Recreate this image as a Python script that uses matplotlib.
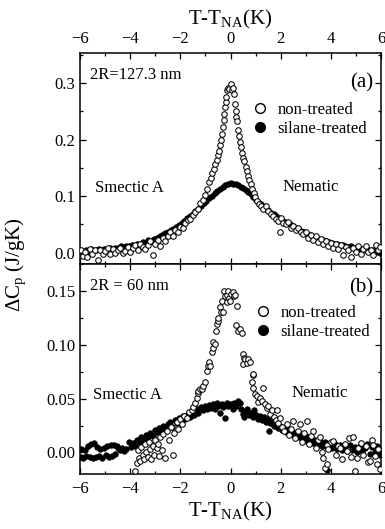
import numpy as np
import matplotlib
matplotlib.use("Agg")
import matplotlib.pyplot as plt
from matplotlib.lines import Line2D
from matplotlib.ticker import MultipleLocator

plt.rcParams.update({"font.family": "Liberation Serif", "mathtext.fontset": "custom",
                     "mathtext.rm": "Liberation Serif", "mathtext.it": "Liberation Serif:italic",
                     "xtick.direction": "in", "ytick.direction": "in", "axes.linewidth": 1.1})

# ---- panel (a): 2R = 127.3 nm ----
a_sil_T = [-5.95,-5.85,-5.78,-5.66,-5.55,-5.47,-5.35,-5.25,-5.14,-5.03,-4.93,-4.82,-4.70,-4.60,-4.48,-4.37,
           -4.26,-4.15,-4.04,-3.93,-3.82,-3.71,-3.60,-3.49,-3.38,-3.27,-3.16,-3.05,-2.94,-2.83,-2.72,-2.61,
           -2.50,-2.39,-2.28,-2.17,-2.06,-1.95,-1.84,-1.73,-1.62,-1.51,-1.40,-1.29,-1.18,-1.07,-0.96,-0.85,
           -0.74,-0.63,-0.52,-0.41,-0.30,-0.20,-0.10,0.00,0.10,0.20,0.30,0.40,0.50,0.60,0.70,0.80,0.90,1.00,
           1.10,1.20,1.30,1.40,1.50,1.61,1.72,1.83,1.94,2.05,2.16,2.27,2.38,2.49,2.60,2.71,2.82,2.93,3.04,
           3.15,3.26,3.37,3.48,3.59,3.70,3.81,3.92,4.03,4.14,4.25,4.36,4.47,4.58,4.69,4.80,4.91,5.02,5.13,
           5.24,5.35,5.46,5.57,5.68,5.79,5.90,5.98]
a_sil_C = [0.003,0.000,0.005,0.002,0.006,0.003,0.005,0.007,0.004,0.007,0.005,0.008,0.006,0.009,0.008,0.011,
           0.009,0.012,0.011,0.014,0.013,0.016,0.015,0.019,0.018,0.022,0.021,0.025,0.026,0.029,0.031,0.034,
           0.036,0.040,0.042,0.046,0.049,0.053,0.056,0.061,0.064,0.069,0.073,0.078,0.083,0.087,0.092,0.097,
           0.101,0.105,0.109,0.113,0.116,0.119,0.121,0.123,0.121,0.122,0.119,0.117,0.114,0.110,0.107,0.103,
           0.098,0.094,0.090,0.086,0.081,0.078,0.075,0.071,0.068,0.064,0.061,0.058,0.055,0.052,0.050,0.047,
           0.044,0.041,0.039,0.036,0.033,0.031,0.028,0.027,0.025,0.023,0.022,0.020,0.019,0.018,0.016,0.015,
           0.014,0.013,0.012,0.010,0.011,0.008,0.009,0.006,0.007,0.004,0.006,0.003,0.004,0.001,0.003,0.000]
a_non_T = [-5.98,-5.90,-5.80,-5.72,-5.62,-5.52,-5.42,-5.30,-5.20,-5.10,-5.00,-4.90,-4.80,-4.70,-4.60,-4.50,
           -4.40,-4.30,-4.20,-4.10,-4.00,-3.90,-3.80,-3.70,-3.60,-3.50,-3.40,-3.30,-3.20,-3.10,-3.00,-2.90,
           -2.80,-2.70,-2.60,-2.50,-2.40,-2.30,-2.20,-2.10,-2.00,-1.90,-1.80,-1.70,-1.60,-1.50,-1.40,-1.30,
           -1.20,-1.10,-1.00,-0.92,-0.85,-0.78,-0.72,-0.66,-0.60,-0.55,-0.50,-0.46,-0.42,-0.38,-0.34,-0.30,
           -0.27,-0.24,-0.21,-0.19,-0.16,-0.13,-0.10,-0.05,0.00,0.05,0.10,0.12,0.17,0.20,0.22,0.26,0.30,0.34,
           0.38,0.42,0.46,0.50,0.55,0.60,0.65,0.70,0.75,0.80,0.86,0.92,0.98,1.05,1.12,1.20,1.30,1.40,1.50,
           1.60,1.70,1.80,1.90,1.96,2.00,2.10,2.20,2.30,2.40,2.50,2.60,2.70,2.80,2.90,3.00,3.10,3.20,3.30,
           3.40,3.50,3.60,3.70,3.80,3.90,4.00,4.10,4.20,4.30,4.40,4.50,4.60,4.70,4.80,4.90,5.00,5.10,5.20,
           5.30,5.40,5.50,5.60,5.70,5.80,5.90,5.97]
a_non_C = [0.004,-0.006,0.002,-0.008,0.006,-0.002,0.004,-0.013,0.005,-0.003,0.003,0.008,-0.002,0.006,0.000,
           0.004,0.009,-0.001,0.003,0.010,0.001,0.008,0.013,0.004,0.016,0.010,0.006,0.014,0.020,-0.004,0.016,
           0.022,0.012,0.026,0.020,0.030,0.036,0.030,0.040,0.037,0.046,0.043,0.052,0.058,0.060,0.066,0.072,
           0.078,0.087,0.094,0.102,0.112,0.125,0.132,0.140,0.148,0.156,0.163,0.172,0.180,0.190,0.200,0.210,
           0.222,0.235,0.246,0.258,0.266,0.276,0.287,0.292,0.290,0.298,0.288,0.292,0.280,0.262,0.250,0.240,
           0.233,0.216,0.206,0.196,0.186,0.176,0.168,0.162,0.152,0.145,0.136,0.128,0.121,0.113,0.105,0.099,
           0.091,0.086,0.082,0.077,0.082,0.074,0.068,0.064,0.060,0.056,0.036,0.062,0.052,0.050,0.054,0.044,
           0.047,0.040,0.043,0.037,0.033,0.036,0.026,0.031,0.022,0.030,0.019,0.024,0.015,0.021,0.012,0.018,
           0.008,0.016,0.006,0.013,-0.004,0.010,0.004,-0.007,0.008,0.002,0.011,-0.002,0.007,0.012,0.001,
           0.005,-0.004,0.014,0.004,0.010]

# ---- panel (b): 2R = 60 nm ----
b_sil_T = [-5.98,-5.95,-5.88,-5.82,-5.75,-5.70,-5.62,-5.55,-5.50,-5.45,-5.38,-5.32,-5.25,-5.20,-5.12,-5.05,
           -4.98,-4.92,-4.85,-4.78,-4.72,-4.66,-4.60,-4.54,-4.48,-4.40,-4.32,-4.25,-4.15,-4.05,-3.98,-3.90,
           -3.80,-3.72,-3.62,-3.55,-3.45,-3.38,-3.28,-3.20,-3.10,-3.02,-2.92,-2.85,-2.75,-2.68,-2.58,-2.50,
           -2.40,-2.32,-2.22,-2.15,-2.05,-1.98,-1.88,-1.80,-1.70,-1.62,-1.52,-1.45,-1.35,-1.28,-1.18,-1.10,
           -1.02,-0.95,-0.85,-0.78,-0.70,-0.62,-0.55,-0.48,-0.40,-0.35,-0.28,-0.22,-0.15,-0.08,0.00,0.08,0.15,
           0.22,0.30,0.36,0.42,0.48,0.52,0.58,0.65,0.72,0.80,0.88,0.95,1.02,1.10,1.18,1.25,1.32,1.40,1.48,
           1.52,1.56,1.65,1.72,1.80,1.88,1.96,2.05,2.14,2.22,2.30,2.40,2.48,2.58,2.66,2.75,2.84,2.92,3.02,
           3.10,3.20,3.28,3.38,3.46,3.56,3.65,3.75,3.83,3.85,3.95,4.05,4.15,4.25,4.35,4.45,4.55,4.65,4.75,
           4.85,4.95,5.05,5.15,5.25,5.35,5.45,5.55,5.65,5.75,5.85,5.95]
b_sil_C = [-0.004,0.003,-0.005,0.002,-0.003,0.006,-0.004,0.008,-0.005,0.009,-0.004,0.005,-0.003,0.003,-0.005,
           0.004,-0.002,0.006,-0.004,0.007,-0.003,0.007,-0.001,0.006,0.004,0.002,0.004,0.001,0.003,0.010,0.005,
           0.009,0.006,0.012,0.009,0.014,0.011,0.016,0.014,0.018,0.015,0.021,0.019,0.023,0.020,0.025,0.022,
           0.026,0.028,0.024,0.030,0.027,0.032,0.029,0.034,0.031,0.036,0.033,0.038,0.035,0.040,0.037,0.042,
           0.039,0.043,0.040,0.044,0.041,0.045,0.040,0.046,0.043,0.037,0.045,0.042,0.032,0.046,0.043,0.045,
           0.040,0.046,0.043,0.048,0.046,0.040,0.036,0.033,0.038,0.040,0.035,0.037,0.033,0.039,0.035,0.031,
           0.034,0.030,0.033,0.028,0.031,0.020,0.027,0.029,0.025,0.027,0.023,0.025,0.021,0.023,0.019,0.021,
           0.017,0.019,0.015,0.018,0.014,0.016,0.012,0.015,0.010,0.013,0.009,0.012,0.007,0.011,0.006,0.010,
           -0.016,0.005,0.009,0.004,0.008,0.003,0.007,0.002,0.006,0.001,0.007,0.002,0.005,0.000,0.006,0.001,
           0.004,0.008,-0.001,0.005,0.000,0.006,-0.002]
b_non_T = [-3.81,-3.74,-3.70,-3.65,-3.60,-3.55,-3.50,-3.45,-3.40,-3.35,-3.30,-3.25,-3.20,-3.15,-3.10,-3.05,
           -3.00,-2.95,-2.90,-2.85,-2.80,-2.75,-2.68,-2.60,-2.54,-2.45,-2.38,-2.30,-2.25,-2.15,-2.10,-2.01,
           -1.95,-1.85,-1.75,-1.65,-1.55,-1.48,-1.40,-1.35,-1.30,-1.28,-1.20,-1.15,-1.10,-1.02,-0.95,-0.90,
           -0.85,-0.82,-0.75,-0.70,-0.68,-0.62,-0.58,-0.55,-0.50,-0.48,-0.42,-0.38,-0.35,-0.30,-0.25,-0.20,
           -0.15,-0.12,-0.09,-0.05,-0.02,0.03,0.09,0.13,0.18,0.22,0.25,0.30,0.38,0.45,0.49,0.51,0.55,0.58,
           0.64,0.71,0.78,0.84,0.88,0.91,0.91,0.98,1.04,1.10,1.18,1.24,1.31,1.38,1.45,1.51,1.58,1.64,1.72,
           1.80,1.84,1.90,1.97,2.05,2.15,2.24,2.35,2.42,2.50,2.58,2.68,2.77,2.85,2.95,3.04,3.12,3.20,3.30,
           3.40,3.50,3.57,3.65,3.70,3.77,3.83,3.83,3.90,4.00,4.10,4.20,4.30,4.37,4.45,4.55,4.63,4.72,4.80,
           4.90,4.96,5.03,5.10,5.20,5.30,5.40,5.48,5.56,5.63,5.69,5.76,5.83,5.90,5.97]
b_non_C = [-0.017,-0.010,0.002,-0.005,-0.008,0.005,-0.002,-0.006,0.008,0.000,-0.004,0.010,0.003,-0.006,0.006,
           -0.002,0.012,0.004,0.008,-0.003,0.014,0.002,0.017,-0.005,0.020,0.012,0.024,-0.002,0.018,0.028,0.022,
           0.031,0.026,0.034,0.032,0.038,0.039,0.042,0.046,0.051,0.055,0.057,0.059,0.059,0.062,0.065,0.076,
           0.080,0.084,0.080,0.093,0.097,0.103,0.101,0.113,0.119,0.122,0.125,0.135,0.130,0.141,0.130,0.150,
           0.145,0.146,0.140,0.150,0.143,0.141,0.147,0.149,0.145,0.146,0.118,0.136,0.113,0.115,0.111,0.082,
           0.091,0.088,0.087,0.083,0.087,0.084,0.065,0.072,0.073,0.060,0.054,0.052,0.047,0.051,0.048,0.060,
           0.045,0.041,0.043,0.036,0.039,0.033,0.030,0.039,0.027,0.032,0.024,0.020,0.026,0.016,0.022,0.029,
           0.013,0.020,0.026,0.010,0.018,0.029,0.008,0.015,0.020,0.004,0.012,0.014,0.000,-0.005,-0.014,-0.011,
           0.007,0.003,0.010,0.011,-0.002,0.006,0.004,-0.006,0.008,0.001,0.013,-0.004,0.014,-0.017,-0.005,
           0.004,0.009,-0.002,0.006,-0.009,-0.008,0.012,0.007,-0.003,-0.011,0.003,-0.015]

panels = [dict(sT=a_sil_T, sC=a_sil_C, nT=a_non_T, nC=a_non_C, ylim=(-0.02, 0.353), major=0.1, minor=0.05,
               fmt="%.1f", size="2R=127.3 nm", tag="(a)", tagy=0.858, leg=(0.57, 0.77),
               smec=(0.05, 0.36), nem=(0.674, 0.365)),
          dict(sT=b_sil_T, sC=b_sil_C, nT=b_non_T, nC=b_non_C, ylim=(-0.02, 0.175), major=0.05, minor=0.025,
               fmt="%.2f", size="2R = 60 nm", tag="(b)", tagy=0.885, leg=(0.58, 0.805),
               smec=(0.043, 0.377), nem=(0.704, 0.387))]

fig = plt.figure(figsize=(3.85, 5.29), dpi=100)
axa = fig.add_axes([80/385, 1-264/529, 301/385, 211/529])
axb = fig.add_axes([80/385, 1-474/529, 301/385, 210/529], sharex=axa)
for ax, p in zip([axa, axb], panels):
    ax.scatter(p["sT"], p["sC"], s=16, c="k", edgecolors="k", linewidths=0.5, zorder=2)
    ax.scatter(p["nT"], p["nC"], s=16, facecolors="white", edgecolors="k", linewidths=0.75, zorder=3)
    ax.set_xlim(-6, 6); ax.set_ylim(*p["ylim"])
    ax.xaxis.set_major_locator(MultipleLocator(2)); ax.xaxis.set_minor_locator(MultipleLocator(1))
    ax.yaxis.set_major_locator(MultipleLocator(p["major"])); ax.yaxis.set_minor_locator(MultipleLocator(p["minor"]))
    ax.yaxis.set_major_formatter(matplotlib.ticker.FormatStrFormatter(p["fmt"]))
    ax.tick_params(which="both", top=True, right=True, labelsize=12, width=0.9)
    ax.tick_params(which="major", length=4.5); ax.tick_params(which="minor", length=2.5)
    ax.text(0.033, 0.895, p["size"], transform=ax.transAxes, fontsize=12, va="center")
    ax.text(0.973, p["tagy"], p["tag"], transform=ax.transAxes, fontsize=15, ha="right", va="center")
    ax.text(*p["smec"], "Smectic A", transform=ax.transAxes, fontsize=12, va="center")
    ax.text(*p["nem"], "Nematic", transform=ax.transAxes, fontsize=12, va="center")
    hs = [Line2D([], [], ls="none", marker="o", ms=7, mfc="white", mec="k", mew=1.0),
          Line2D([], [], ls="none", marker="o", ms=7, mfc="k", mec="k")]
    ax.legend(hs, ["non-treated", "silane-treated"], loc="upper left", bbox_to_anchor=p["leg"], frameon=False,
              fontsize=12, borderpad=0, borderaxespad=0, handlelength=1.0, handletextpad=0.55, labelspacing=0.2)

axa.tick_params(axis="x", labelbottom=False, labeltop=True, pad=4)
axa.set_xlabel("T-T$_{\\mathrm{NA}}$(K)", fontsize=15, labelpad=5)
axa.xaxis.set_label_position("top")
axb.tick_params(axis="x", pad=5)
axb.set_xlabel("T-T$_{\\mathrm{NA}}$(K)", fontsize=15, labelpad=2)
fig.text(0.04, 264/529, "ΔC$_{\\mathrm{p}}$ (J/gK)", rotation=90, fontsize=15, ha="center", va="center")
fig.savefig("out.png", dpi=100)
